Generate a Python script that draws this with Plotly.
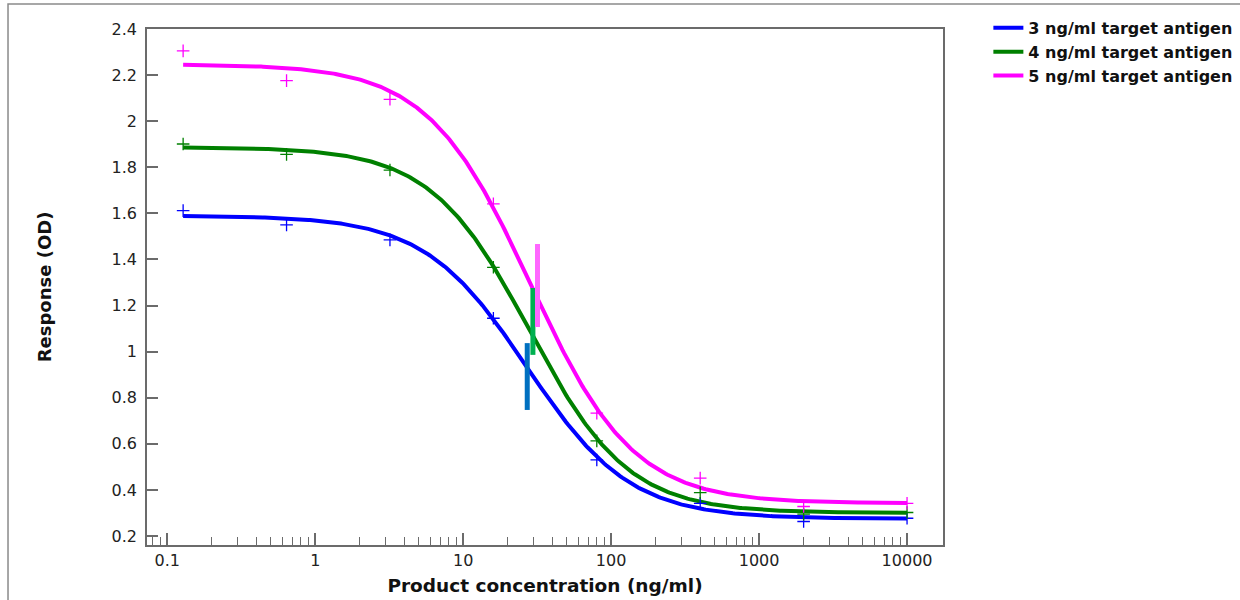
import numpy as np
import plotly.graph_objects as go

# ---- data ----
conc = [0.128, 0.64, 3.2, 16, 80, 400, 2000, 10000]
series_names = ["3 ng/ml target antigen", "4 ng/ml target antigen", "5 ng/ml target antigen"]
resp_3 = [1.612, 1.550, 1.485, 1.145, 0.530, 0.342, 0.263, 0.277]
resp_4 = [1.901, 1.856, 1.788, 1.366, 0.613, 0.388, 0.295, 0.302]
resp_5 = [2.305, 2.176, 2.095, 1.641, 0.733, 0.451, 0.328, 0.342]

# 4PL fit parameters (top, bottom, EC50, slope)
fit_top = [1.590, 1.887, 2.247]
fit_bottom = [0.275, 0.300, 0.342]
fit_ec50 = [27.0, 28.0, 28.5]
fit_slope = [1.25, 1.30, 1.25]

# EC50 marker bars
bar_x = [27.1, 29.6, 31.8]
bar_lo = [0.747, 0.986, 1.107]
bar_hi = [1.037, 1.276, 1.467]

x_ticks = [0.1, 1, 10, 100, 1000, 10000]
x_tick_text = ["0.1", "1", "10", "100", "1000", "10000"]
y_ticks = [0.2, 0.4, 0.6, 0.8, 1.0, 1.2, 1.4, 1.6, 1.8, 2.0, 2.2, 2.4]
y_tick_text = ["0.2", "0.4", "0.6", "0.8", "1", "1.2", "1.4", "1.6", "1.8", "2", "2.2", "2.4"]

# ---- styles ----
curve_colors = ["#0000FF", "#008000", "#FF00FF"]
bar_colors = ["#0070C0", "#00B050", "#FF66FF"]
responses = [resp_3, resp_4, resp_5]

fig = go.Figure()

xs = np.logspace(np.log10(conc[0]), np.log10(conc[-1]), 400)
for i in range(3):
    ys = fit_bottom[i] + (fit_top[i] - fit_bottom[i]) / (1 + (xs / fit_ec50[i]) ** fit_slope[i])
    fig.add_trace(go.Scatter(
        x=xs, y=ys, mode="lines", name=series_names[i],
        line=dict(color=curve_colors[i], width=4),
    ))

for i in range(3):
    fig.add_trace(go.Scatter(
        x=conc, y=responses[i], mode="markers", showlegend=False,
        marker=dict(symbol="cross-thin", size=9, line=dict(color=curve_colors[i], width=1.3)),
    ))

for i in range(3):
    fig.add_trace(go.Scatter(
        x=[bar_x[i], bar_x[i]], y=[bar_lo[i], bar_hi[i]], mode="lines", showlegend=False,
        line=dict(color=bar_colors[i], width=5),
    ))

minor_vals = [m * 10 ** k for k in range(-2, 5) for m in range(2, 10)]

axis_col = "#6b6b6b"
fig.update_xaxes(
    type="log", range=[-1.137, 4.243],
    tickmode="array", tickvals=x_ticks, ticktext=x_tick_text,
    ticks="inside", ticklen=12, tickwidth=1.5, tickcolor=axis_col,
    minor=dict(ticks="inside", ticklen=8, tickwidth=1.2, tickcolor=axis_col,
               tickmode="array", tickvals=minor_vals, showgrid=False),
    showline=True, linecolor=axis_col, linewidth=1.5, mirror=True,
    showgrid=False, zeroline=False,
    tickfont=dict(family="DejaVu Sans", size=16, color="#222222"),
    title=dict(text="Product concentration (ng/ml)", standoff=10,
               font=dict(family="DejaVu Sans", size=18.5, color="#111111", weight="bold")),
)
fig.update_yaxes(
    range=[0.161, 2.4],
    tickmode="array", tickvals=y_ticks, ticktext=y_tick_text,
    ticks="inside", ticklen=11, tickwidth=1.5, tickcolor=axis_col,
    showline=True, linecolor=axis_col, linewidth=1.5, mirror=True,
    showgrid=False, zeroline=False,
    tickfont=dict(family="DejaVu Sans", size=16, color="#222222"),
    ticklabelstandoff=5,
    title=dict(text="Response (OD)", standoff=55,
               font=dict(family="DejaVu Sans", size=18, color="#111111", weight="bold")),
)

fig.add_shape(type="rect", xref="paper", yref="paper",
              x0=-0.1746, x1=1.6, y0=-0.2, y1=1.0484,
              line=dict(color="#8a8a8a", width=1.5), fillcolor="rgba(0,0,0,0)", layer="below")

fig.update_layout(
    width=1240, height=600,
    margin=dict(l=147, r=297, t=29, b=55, autoexpand=False),
    paper_bgcolor="white", plot_bgcolor="white",
    legend=dict(x=1.057, y=1.035, xanchor="left", yanchor="top",
                font=dict(family="DejaVu Sans", size=16, color="#111111", weight="bold"),
                bgcolor="rgba(0,0,0,0)", tracegroupgap=0, itemwidth=30),
    showlegend=True,
)

fig.write_html("out.html")
